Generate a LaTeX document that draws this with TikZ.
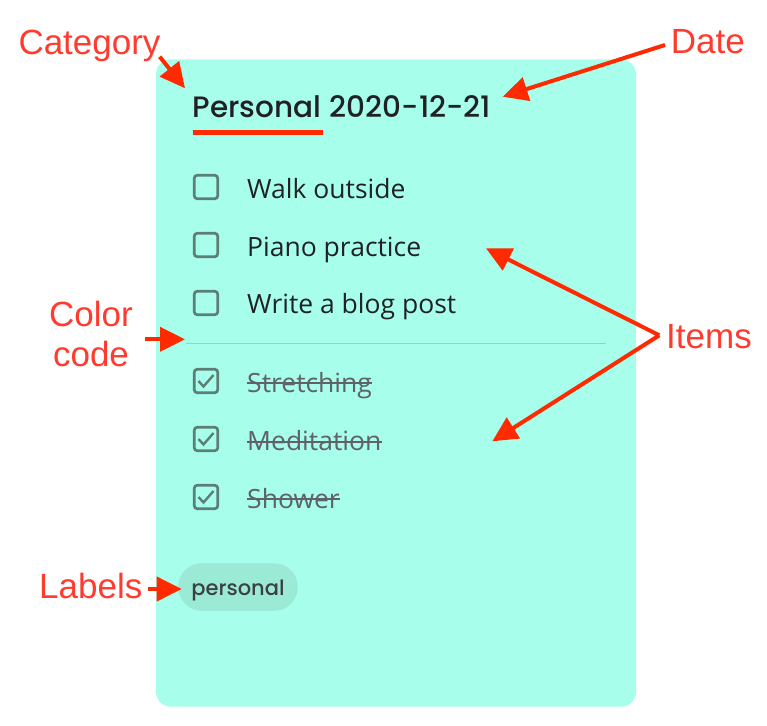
\documentclass[tikz,border=0pt]{standalone}
\usepackage{fontspec}
\setmainfont{Liberation Sans}
\newfontfamily\titlefont{Poppins Medium}
\newfontfamily\itemfont{Open Sans}
\newfontfamily\chipfont{Poppins Medium}
\usepackage{tikz}
\usetikzlibrary{arrows.meta,calc}
\definecolor{cardbg}{RGB}{167,255,235}
\definecolor{chipbg}{RGB}{155,234,214}
\definecolor{boxgray}{RGB}{92,126,117}
\definecolor{donegray}{RGB}{95,99,104}
\definecolor{inkdark}{RGB}{32,33,36}
\definecolor{chipink}{RGB}{60,64,67}
\definecolor{annred}{RGB}{255,59,48}
\definecolor{arrowred}{RGB}{255,42,0}
\definecolor{rulecol}{RGB}{138,216,196}
\tikzstyle{annot} = [inner sep=0pt, text=annred, font={\fontsize{35}{40}\selectfont}]
\tikzstyle{pointer} = [draw=arrowred, line width=4pt, -{Triangle[length=25pt,width=24pt]}]
\tikzstyle{titletext} = [anchor=base west, inner sep=0pt, text=inkdark, font={\titlefont\fontsize{29.5}{34}\selectfont}]
\tikzstyle{itemtext} = [anchor=base west, inner sep=0pt, text=inkdark, font={\itemfont\fontsize{26.5}{30}\selectfont}]
\tikzstyle{donetext} = [itemtext, text=donegray]
\tikzstyle{checkbox} = [draw=boxgray, line width=2.7pt, rounded corners=3pt, minimum size=23.5pt, inner sep=0pt]
\tikzstyle{tick} = [draw=boxgray, line width=2.4pt]
\tikzstyle{strike} = [draw=donegray, line width=2pt]
\tikzstyle{chip} = [fill=chipbg, rounded corners=23.5pt, minimum width=119.5pt, minimum height=47.5pt, inner sep=0pt, text=chipink, text height=16pt, text depth=0pt, font={\chipfont\fontsize{21}{24}\selectfont}]

\begin{document}
\begin{tikzpicture}[x=1pt, y=-1pt]
  \useasboundingbox (0,0) rectangle (767,725);
  \fill[cardbg, rounded corners=15pt] (156,59.3) rectangle (636,706.7);

  \node[at={(192.7,117.3)}, titletext] (cattitle) {Personal};
  \node[at={($(cattitle.base east)+(8,0)$)}, titletext] (datetitle) {2020-12-21};
  \draw[arrowred, line width=4.5pt] ($(cattitle.base west)+(0,15)$) -- ($(cattitle.base east)+(1,15)$);

  \node[at={(206,187)}, checkbox] (box1) {};
  \node[at={(206,245)}, checkbox] (box2) {};
  \node[at={(206,303)}, checkbox] (box3) {};
  \node[at={(206,381)}, checkbox] (box4) {};
  \node[at={(206,439)}, checkbox] (box5) {};
  \node[at={(206,497)}, checkbox] (box6) {};
  \draw[tick] ($(box4.center)+(-7.5,0)$) -- ++(5,5.5) -- ++(10,-11.5);
  \draw[tick] ($(box5.center)+(-7.5,0)$) -- ++(5,5.5) -- ++(10,-11.5);
  \draw[tick] ($(box6.center)+(-7.5,0)$) -- ++(5,5.5) -- ++(10,-11.5);

  \node[at={(247,198)}, itemtext] (walk) {Walk outside};
  \node[at={(247,256.5)}, itemtext] (piano) {Piano practice};
  \node[at={(247,313)}, itemtext] (blog) {Write a blog post};

  \coordinate (rulestart) at (186,343.5);
  \coordinate (ruleend) at (606,343.5);
  \draw[rulecol, line width=1.5pt] (rulestart) -- (ruleend);

  \node[at={(247,392)}, donetext] (stretch) {Stretching};
  \node[at={(247,450.5)}, donetext] (medit) {Meditation};
  \node[at={(247,508)}, donetext] (shower) {Shower};
  \draw[strike] ($(stretch.base west)+(0,-9)$) -- ($(stretch.base east)+(0,-9)$);
  \draw[strike] ($(medit.base west)+(0,-9)$) -- ($(medit.base east)+(0,-9)$);
  \draw[strike] ($(shower.base west)+(0,-9)$) -- ($(shower.base east)+(0,-9)$);

  \node[at={(238,587)}, chip] (chiplabel) {personal};

  \node[at={(18.3,54)}, anchor=base west, annot] (category) {Category};
  \node[at={(670.7,53.3)}, anchor=base west, annot] (date) {Date};
  \node[at={(91,366.7)}, anchor=base, align=center, annot] (colorcode) {Color\\code};
  \node[at={(666,348.3)}, anchor=base west, annot] (items) {Items};
  \node[at={(39,598.3)}, anchor=base west, annot] (labels) {Labels};

  \coordinate (cattip) at (185,88.3);
  \coordinate (datetip) at (502.7,96.7);
  \coordinate (colortip) at (185,339.3);
  \coordinate (itemtipa) at (486,248.3);
  \coordinate (itemtipb) at (492.3,441.3);
  \coordinate (labeltip) at (181.7,589);

  \draw[pointer] ($(category.base east)+(-1,2.7)$) -- (cattip);
  \draw[pointer] ($(date.base west)+(-5.7,-8.3)$) -- (datetip);
  \draw[pointer] ($(colorcode.base east)+(12,-27.4)$) -- (colortip);
  \draw[pointer] ($(items.base west)+(-6.7,-13)$) -- (itemtipa);
  \draw[pointer] ($(items.base west)+(-6.7,-13)$) -- (itemtipb);
  \draw[pointer] ($(labels.base east)+(5,-9.3)$) -- (labeltip);
\end{tikzpicture}
\end{document}
